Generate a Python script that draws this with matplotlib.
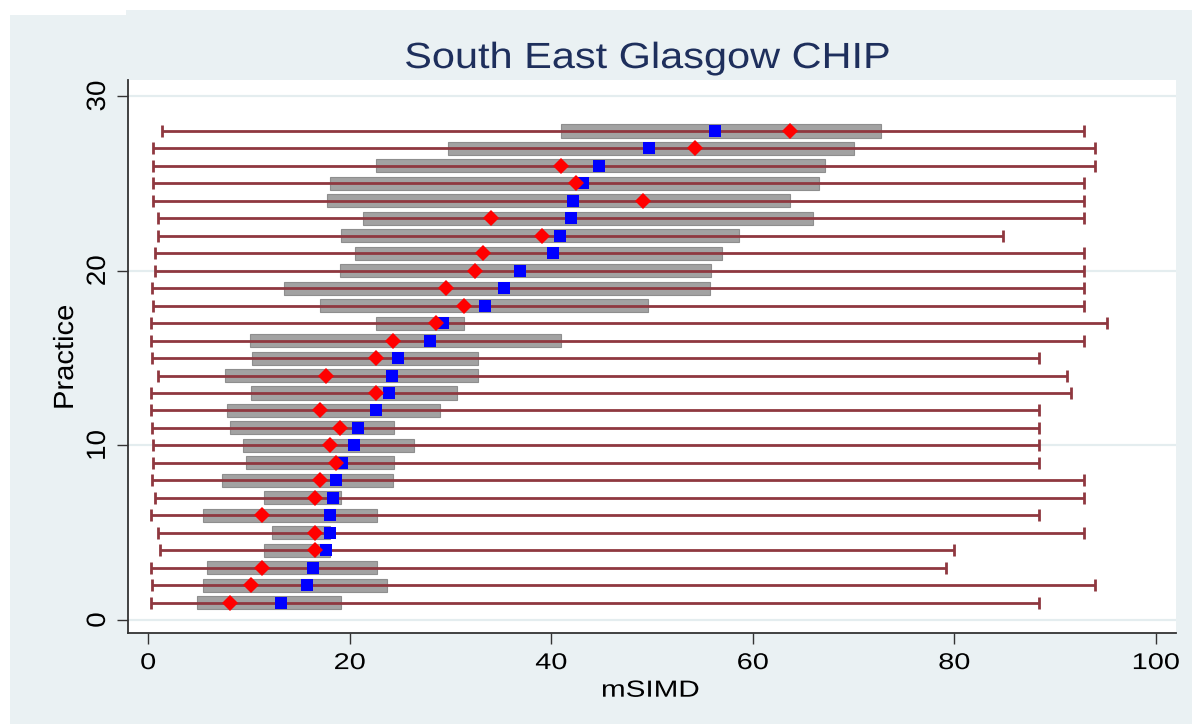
import matplotlib
matplotlib.use("Agg")
import matplotlib.pyplot as plt
from matplotlib.patches import Rectangle
from matplotlib.patheffects import AbstractPathEffect
from matplotlib.transforms import Affine2D
import numpy as np

plt.rcParams['font.family'] = ['Liberation Sans', 'DejaVu Sans']

practice = list(range(1, 29))
whisk_lo = [0.33, 0.43, 0.33, 1.16, 0.96, 0.33, 0.66, 0.43, 0.53, 0.53, 0.43, 0.33, 0.33, 1.02,
            0.43, 0.33, 0.33, 0.53, 0.43, 0.66, 0.66, 1.02, 1.02, 0.53, 0.53, 0.53, 0.47, 1.35]
box_lo = [4.8, 5.4, 5.8, 11.5, 12.3, 5.4, 11.45, 7.35, 9.67, 9.44, 8.15, 7.85, 10.2, 7.67,
          10.3, 10.15, 22.6, 17.05, 13.5, 19.0, 20.5, 19.1, 21.3, 17.75, 18.05, 22.6, 29.8, 41.0]
box_hi = [19.1, 23.7, 22.7, 18.0, 18.0, 22.7, 19.1, 24.3, 24.4, 26.4, 24.4, 29.0, 30.6, 32.7,
          32.7, 41.0, 31.3, 49.6, 55.8, 55.9, 56.9, 58.6, 66.0, 63.7, 66.6, 67.2, 70.0, 72.7]
whisk_hi = [88.4, 94.0, 79.2, 80.0, 92.9, 88.4, 92.9, 92.9, 88.4, 88.4, 88.4, 88.4, 91.6, 91.2,
            88.4, 92.9, 95.2, 92.9, 92.9, 92.9, 92.9, 84.8, 92.9, 92.9, 92.9, 94.0, 94.0, 92.9]
red_val = [8.15, 10.2, 11.25, 16.6, 16.6, 11.25, 16.6, 17.05, 18.6, 18.05, 19.0, 17.05, 22.6, 17.6,
           22.6, 24.3, 28.6, 31.3, 29.6, 32.4, 33.2, 39.1, 34.0, 49.1, 42.5, 41.0, 54.3, 63.7]
blue_val = [13.2, 15.8, 16.4, 17.6, 18.0, 18.05, 18.3, 18.6, 19.2, 20.4, 20.8, 22.6, 23.9, 24.2,
            24.8, 28.0, 29.3, 33.4, 35.3, 36.9, 40.2, 40.9, 42.0, 42.2, 43.2, 44.7, 49.7, 56.3]

xticks = [0, 20, 40, 60, 80, 100]
yticks = [0, 10, 20, 30]
title = 'South East Glasgow CHIP'
xlabel = 'mSIMD'
ylabel = 'Practice'


class Stretch(AbstractPathEffect):
    """Stretch glyphs along the text direction (sx) and across it (sy, about baseline)."""
    def __init__(self, sx=1.0, sy=1.0):
        super().__init__((0, 0))
        self.sx = sx
        self.sy = sy

    def draw_path(self, renderer, gc, tpath, affine, rgbFace=None):
        ext = tpath.get_extents()
        cx = (ext.x0 + ext.x1) / 2
        pre = Affine2D().translate(-cx, 0).scale(self.sx, self.sy).translate(cx, 0)
        renderer.draw_path(gc, tpath, pre + affine, rgbFace)


W, H = 1192, 724
fig = plt.figure(figsize=(W / 100, H / 100), dpi=100)
fig.patch.set_facecolor('white')
bg = '#EAF1F3'
fig.patches.append(Rectangle((10 / W, 0), 1 - 10 / W, 1 - 15 / H, transform=fig.transFigure,
                             facecolor=bg, edgecolor='none', zorder=-10))
fig.patches.append(Rectangle((126 / W, 0), 1 - 126 / W, 1 - 10 / H, transform=fig.transFigure,
                             facecolor=bg, edgecolor='none', zorder=-10))

ax = fig.add_axes([128 / W, 1 - 633 / H, (1176 - 128) / W, (633 - 80) / H])
ax.set_facecolor('white')

y = np.array(practice)
lo = np.array(whisk_lo)
hi = np.array(whisk_hi)
mid = (lo + hi) / 2

for g in yticks:
    ax.axhline(g, color='#E4EDEF', lw=1.6, zorder=0)

ax.barh(y, np.array(box_hi) - np.array(box_lo), left=box_lo, height=0.75,
        color='#A2A2A2', edgecolor='#8E8E8E', linewidth=0.8, zorder=2)
ax.errorbar(mid, y, xerr=[mid - lo, hi - mid], fmt='none', ecolor='#8F3840',
            elinewidth=2.0, capsize=4.4, capthick=2.0, zorder=3)
ax.plot(blue_val, y, 's', color='#0000FF', ms=8, mew=0, zorder=4, linestyle='none')
ax.plot(red_val, y, 'D', color='#FF0000', ms=8.2, mew=0, zorder=5, linestyle='none')

ax.set_xlim(-2, 102)
ax.set_ylim(-0.74, 30.92)
ax.set_xticks(xticks)
ax.set_yticks(yticks)
ax.set_xticklabels([str(t) for t in xticks], fontsize=16.4)
ax.set_yticklabels([str(t) for t in yticks], fontsize=16.4, rotation=90, va='center')
ax.tick_params(axis='both', direction='out', length=8, width=1.0, color='#333333')
ax.tick_params(axis='x', pad=5)
ax.tick_params(axis='y', pad=5)
for lab in ax.get_xticklabels():
    lab.set_path_effects([Stretch(1.27, 1.0)])
for lab in ax.get_yticklabels():
    lab.set_path_effects([Stretch(1.22, 1.16)])

for s in ['top', 'right']:
    ax.spines[s].set_visible(False)
for s in ['left', 'bottom']:
    ax.spines[s].set_color('#333333')
    ax.spines[s].set_linewidth(1.3)

ax.set_xlabel(xlabel, fontsize=16.8, va='baseline', ha='center',
              path_effects=[Stretch(1.27, 1.0)])
ax.xaxis.set_label_coords((650.4 - 128) / 1048, -(696.7 - 633) / 553)
ax.set_ylabel(ylabel, fontsize=16.8, va='baseline', ha='center', rotation=90,
              path_effects=[Stretch(1.25, 1.19)])
ax.yaxis.set_label_coords(-(128 - 73) / 1048, (633 - 357) / 553)

fig.text(647.5 / W, 1 - 68 / H, title, fontsize=26.2, color='#1E2F5C',
         ha='center', va='baseline', path_effects=[Stretch(1.14, 1.0)])

fig.savefig('out.png', dpi=100, facecolor=fig.get_facecolor())
